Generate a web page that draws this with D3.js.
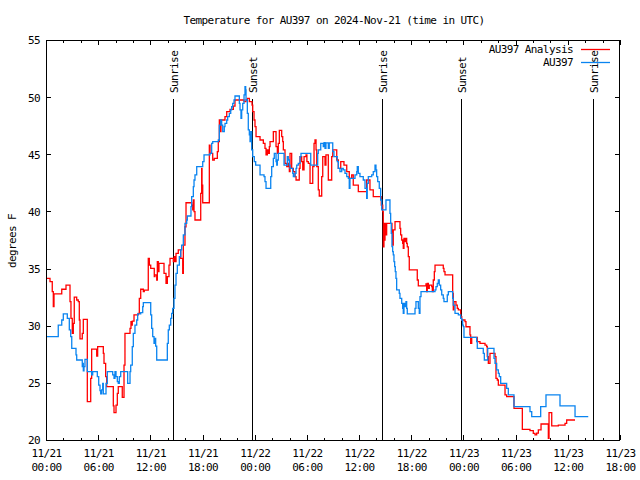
<!DOCTYPE html>
<html>
<head>
<meta charset="utf-8">
<script src="https://cdn.jsdelivr.net/npm/d3@7"></script>
<style>
  html, body { margin: 0; padding: 0; background: #fff; }
  svg text { font-family: "DejaVu Sans Mono", "Liberation Mono", monospace; font-size: 11px; letter-spacing: -0.6px; fill: #000; }
</style>
</head>
<body>
<svg id="chart" width="640" height="480"></svg>
<script>
// ---------------- data (hours since 2024-11-21 00:00 UTC, degrees F) ----------------
const titleText = "Temperature for AU397 on 2024-Nov-21 (time in UTC)";
const yLabelText = "degrees F";
const seriesNames = ["AU397 Analysis", "AU397"];
const seriesColors = ["#ff0000", "#0a84f0"];

const redHours = [0.08,0.46,0.72,0.84,0.92,1.81,2.30,2.76,2.87,3.02,3.14,3.25,3.53,3.71,3.83,3.91,4.17,4.29,4.75,5.14,5.25,5.83,5.94,6.59,6.67,6.86,6.98,7.74,7.82,8.05,8.20,8.31,8.77,8.97,9.08,9.66,9.77,9.89,9.92,10.12,10.61,10.73,10.89,11.19,11.30,11.76,11.88,12.04,12.45,12.53,12.73,12.80,12.91,12.99,13.57,13.80,13.95,14.14,14.26,14.64,14.75,
  14.83,14.95,15.21,15.49,15.72,15.79,15.98,16.10,16.75,16.87,16.94,17.02,17.13,17.79,17.90,17.94,18.02,18.78,18.86,19.17,19.35,19.70,19.81,19.93,20.01,20.12,20.58,20.78,21.16,21.54,21.73,22.77,23.00,23.15,23.38,23.69,23.77,23.92,24.03,24.15,24.61,24.99,25.18,25.30,25.45,25.56,25.68,25.76,26.14,26.45,26.60,26.71,26.83,
  27.10,27.22,27.29,27.48,27.68,27.86,27.98,28.06,28.25,28.44,28.63,28.75,29.12,29.21,29.40,29.52,29.67,29.90,30.00,30.16,30.36,30.67,30.82,30.93,31.05,31.13,31.31,31.42,31.70,31.82,32.08,32.19,32.46,32.85,32.97,33.43,33.61,33.89,34.26,34.58,34.87,35.15,35.33,35.91,36.87,37.25,37.63,
  38.55,38.72,38.78,38.86,38.92,38.98,39.09,39.17,39.78,39.86,39.93,40.13,40.70,40.78,40.90,41.01,41.08,41.16,41.28,41.39,41.47,41.54,41.66,41.77,42.69,42.81,43.69,43.77,43.84,43.96,44.07,44.35,44.42,44.53,44.65,44.73,45.68,45.76,45.88,46.76,46.83,46.91,47.14,47.29,47.41,47.68,47.80,48.18,48.29,48.75,48.83,48.95,49.59,49.90,50.48,50.67,50.74,50.86,51.05,51.63,51.74,51.89,52.01,52.78,52.97,53.81,54.77,55.65,56.03,56.23,56.42,56.61,56.92,57.76,57.84,58.15,58.91,59.68,59.87,60.83];
const redTemps = [34.15,33.85,32.98,31.67,32.78,33.19,33.56,32.1,30.65,29.33,30.2,32.5,32.25,32.1,30.5,28.84,29.33,30.55,23.35,25.4,27.96,27.35,28.17,27.58,26.7,25.54,24.67,22.98,22.4,23.06,24.08,24.67,23.73,26.56,29.33,29.77,30.35,30.06,30.41,30.94,31.08,32.4,33.19,32.98,33.12,35.9,35.31,35.02,34.29,34.44,34.0,35.6,34.73,35.46,34.58,33.71,34.29,35.31,35.9,35.6,36.04,
  35.6,36.33,36.63,35.9,34.58,37.06,38.66,40.76,40.56,40.13,41.0,39.98,39.25,41.58,43.77,42.3,40.76,45.81,45.08,44.5,44.64,45.23,46.1,48.0,46.98,48.0,48.29,48.73,48.93,49.22,49.75,49.6,49.75,49.9,49.6,49.3,48.73,48.0,47.42,46.54,46.25,45.96,45.52,44.94,45.38,45.08,45.67,46.1,46.98,45.67,45.08,45.96,47.1,
  46.54,46.1,45.38,44.2,43.92,44.2,43.48,45.08,43.77,43.48,43.04,42.75,43.77,44.8,44.35,43.63,44.8,44.94,44.35,44.2,42.46,43.92,45.96,46.25,45.38,43.92,41.88,41.35,43.04,44.8,44.06,44.94,42.75,44.8,45.38,44.5,43.77,44.35,44.06,43.48,42.9,43.19,42.3,41.73,42.75,41.88,41.3,
  40.56,39.98,36.9,38.96,37.5,38.96,37.94,38.96,38.08,37.06,38.38,39.1,38.52,37.94,37.5,37.2,36.77,37.64,37.35,37.64,37.2,36.9,36.04,34.88,34.0,33.48,33.65,32.98,33.71,33.27,33.56,33.42,32.98,34.0,34.73,35.31,35.02,34.73,34.44,32.83,31.38,32.1,31.81,31.52,31.38,30.79,30.5,30.35,29.91,29.19,28.46,28.98,28.6,28.46,28.31,28.17,27.29,26.71,27.58,27.29,25.4,25.25,24.81,23.94,23.79,22.77,20.93,20.82,20.58,20.44,20.6,20.88,21.4,20.15,22.39,21.23,21.31,21.46,21.75,21.75];

const blueHours = [0.08,1.41,1.81,1.99,2.45,2.68,2.84,2.96,3.45,3.53,4.17,4.22,4.29,4.37,4.48,4.75,5.25,5.37,5.90,6.06,6.21,6.29,6.40,6.52,6.59,6.90,7.05,7.67,7.82,7.93,8.05,8.20,8.31,8.43,8.59,9.39,9.66,9.74,9.92,10.04,10.23,10.43,10.54,10.89,11.12,11.19,12.04,12.15,12.27,12.42,12.53,12.61,12.73,13.95,14.06,14.18,14.34,14.45,14.57,14.72,
  14.83,14.95,15.10,15.33,15.49,15.60,15.79,15.98,16.18,16.25,16.67,16.75,16.94,17.02,17.13,17.33,18.02,18.17,18.86,19.05,19.17,19.81,19.93,20.09,20.20,20.32,20.50,20.58,20.78,20.89,21.08,21.24,21.35,21.47,21.62,21.73,22.23,22.31,22.42,22.50,22.62,22.77,22.88,22.96,23.00,23.15,23.26,23.38,23.46,23.54,23.65,23.77,23.95,24.11,24.61,25.07,25.18,25.30,25.84,25.95,26.14,26.25,26.45,26.53,26.60,26.71,
  27.37,27.75,27.86,27.98,28.06,28.37,28.44,28.63,28.75,28.83,29.01,29.21,29.32,30.44,31.24,31.31,31.59,31.88,31.97,32.08,32.19,32.46,32.57,32.97,33.11,33.49,33.61,33.80,34.00,34.18,34.38,34.58,34.76,34.87,34.95,35.53,35.73,35.79,35.91,36.10,36.48,36.68,36.87,36.94,37.06,37.45,37.63,37.83,37.94,38.02,38.14,38.32,38.48,38.60,
  39.09,39.55,39.63,39.70,39.78,39.86,39.93,40.01,40.09,40.16,40.24,40.32,40.62,40.70,40.90,41.01,41.08,41.16,41.28,41.39,41.47,41.54,42.43,42.54,42.81,42.92,43.00,43.12,44.73,44.84,44.99,45.11,45.22,45.38,45.50,45.68,45.76,46.14,46.26,46.76,46.83,47.03,47.41,47.68,47.80,47.91,47.98,48.06,49.52,49.59,50.28,50.40,50.79,51.51,51.63,51.82,52.01,52.12,52.28,52.97,53.16,53.81,55.65,55.85,56.88,57.49,59.10,60.83,62.35];
const blueTemps = [29.04,30.06,30.5,31.03,30.65,29.63,29.04,28.02,27.44,27.0,26.42,26.71,26.04,26.42,27.06,25.98,25.69,25.98,25.54,24.81,24.32,24.03,24.38,24.96,24.03,24.96,25.98,25.69,25.4,25.98,25.54,25.1,24.96,25.54,25.98,24.96,25.98,26.56,28.17,29.33,30.06,30.5,31.03,31.14,31.67,32.02,30.94,29.77,29.04,28.46,28.9,28.22,27.0,28.46,29.63,30.06,30.65,31.08,31.52,32.4,
  33.56,34.58,35.31,36.04,36.63,37.06,37.94,38.96,39.25,39.6,40.42,41.29,42.17,42.75,43.19,43.92,44.35,44.94,45.08,45.96,46.1,46.25,47.56,48.0,47.56,46.98,47.42,47.71,48.0,48.29,48.58,48.88,49.16,49.46,49.75,50.1,49.46,48.88,48.15,48.88,49.46,50.19,50.92,50.63,49.75,48.58,47.13,46.69,46.1,46.98,45.38,44.8,44.35,44.06,43.19,43.04,42.6,42.02,43.04,43.92,44.65,45.08,44.35,44.06,44.5,45.08,
  44.06,44.8,44.5,44.06,43.77,43.33,43.04,43.33,43.77,44.06,44.2,44.8,45.08,44.06,45.08,45.38,45.96,45.67,46.02,45.52,46.0,45.52,46.0,45.23,44.8,44.35,43.77,43.48,43.77,43.63,43.33,43.04,42.9,42.02,42.9,43.19,43.48,43.92,43.33,43.04,42.75,42.02,41.15,42.46,43.04,43.19,43.48,44.06,43.63,43.04,42.6,42.02,41.0,40.13,
  41.0,39.83,38.96,38.08,36.92,36.48,36.19,35.6,35.17,34.73,34.15,33.13,32.83,32.4,31.96,31.52,31.08,31.96,31.67,32.1,31.52,31.03,31.52,32.1,31.52,31.08,32.54,32.98,33.13,33.42,33.71,34.0,33.56,33.13,32.69,32.4,32.1,32.69,32.98,32.4,31.81,31.08,30.94,30.65,30.5,30.06,29.92,28.98,28.6,28.02,27.58,27.0,28.02,27.15,26.71,26.13,25.83,25.54,24.96,24.52,23.94,22.92,22.48,22.04,22.92,23.94,22.98,22.04,22.04];

const sunHours = [14.64, 23.72, 38.67, 47.75, 62.84];
const sunLabels = ["Sunrise", "Sunset", "Sunrise", "Sunset", "Sunrise"];

const yTicks = [20, 25, 30, 35, 40, 45, 50, 55];
const xStartUTC = Date.UTC(2024, 10, 21, 0, 0);
const xEndUTC = Date.UTC(2024, 10, 23, 18, 0);

// ---------------- drawing ----------------
const svg = d3.select("#chart");
const L = 46, R = 620, T = 40, B = 440;
const toDate = h => new Date(xStartUTC + h * 3600e3);

const x = d3.scaleUtc().domain([new Date(xStartUTC), new Date(xEndUTC)]).range([L, R]);
const y = d3.scaleLinear().domain([20, 55]).range([B, T]);

svg.append("defs").append("clipPath").attr("id", "plotclip")
  .append("rect").attr("x", L).attr("y", T).attr("width", R - L).attr("height", B - T);

const minorTicks = d3.utcHour.every(2).range(new Date(xStartUTC), new Date(xEndUTC + 1));
const majorTicks = d3.utcHour.every(6).range(new Date(xStartUTC), new Date(xEndUTC + 1));

function styleAxis(g) {
  g.select(".domain").remove();
  g.selectAll("line").attr("stroke", "#000").attr("stroke-width", 1).attr("shape-rendering", "crispEdges");
}

// minor ticks bottom/top
svg.append("g").attr("transform", `translate(0,${B})`)
  .call(d3.axisBottom(x).tickValues(minorTicks).tickSize(-2.5).tickFormat(""))
  .call(styleAxis);
svg.append("g").attr("transform", `translate(0,${T})`)
  .call(d3.axisTop(x).tickValues(minorTicks).tickSize(-2.5).tickFormat(""))
  .call(styleAxis);
// major ticks bottom/top
const fmtD = d3.utcFormat("%m/%d"), fmtT = d3.utcFormat("%H:%M");
const xAxisG = svg.append("g").attr("transform", `translate(0,${B})`)
  .call(d3.axisBottom(x).tickValues(majorTicks).tickSize(-5).tickFormat(""))
  .call(styleAxis);
xAxisG.selectAll(".tick").append("text")
  .attr("text-anchor", "middle")
  .each(function(d) {
    const t = d3.select(this);
    t.append("tspan").attr("x", 0).attr("y", 17).text(fmtD(d));
    t.append("tspan").attr("x", 0).attr("y", 31).text(fmtT(d));
  });
svg.append("g").attr("transform", `translate(0,${T})`)
  .call(d3.axisTop(x).tickValues(majorTicks).tickSize(-5).tickFormat(""))
  .call(styleAxis);

// y axes
const yAxisG = svg.append("g").attr("transform", `translate(${L},0)`)
  .call(d3.axisLeft(y).tickValues(yTicks).tickSize(-5).tickPadding(6).tickFormat(d3.format("d")))
  .call(styleAxis);
yAxisG.selectAll("text").attr("dy", "0.35em").attr("text-anchor", "end");
svg.append("g").attr("transform", `translate(${R},0)`)
  .call(d3.axisRight(y).tickValues(yTicks).tickSize(-5).tickFormat(""))
  .call(styleAxis);

// sunrise / sunset lines
const sunG = svg.append("g");
sunHours.forEach((h, i) => {
  const sx = Math.round(x(toDate(h))) + 0.5;
  sunG.append("line").attr("x1", sx).attr("x2", sx).attr("y1", 99).attr("y2", B)
    .attr("stroke", "#000").attr("stroke-width", 1);
  sunG.append("text")
    .attr("transform", `translate(${sx + 4},93) rotate(-90)`)
    .attr("text-anchor", "start")
    .text(sunLabels[i]);
});

// series lines
const line = d3.line()
  .x(d => x(toDate(d[0])))
  .y(d => y(d[1]))
  .curve(d3.curveStepAfter);
const redData = d3.zip(redHours, redTemps);
const blueData = d3.zip(blueHours, blueTemps);
const plotG = svg.append("g").attr("clip-path", "url(#plotclip)");
plotG.append("path").datum(redData).attr("d", line)
  .attr("fill", "none").attr("stroke", seriesColors[0]).attr("stroke-width", 1.3);
plotG.append("path").datum(blueData).attr("d", line)
  .attr("fill", "none").attr("stroke", seriesColors[1]).attr("stroke-width", 1.3);

// border
svg.append("rect").attr("x", L + 0.5).attr("y", T + 0.5).attr("width", R - L - 1).attr("height", B - T)
  .attr("fill", "none").attr("stroke", "#000").attr("stroke-width", 1).attr("shape-rendering", "crispEdges");

// legend
const legendY = [49.5, 62.5];
seriesNames.forEach((name, i) => {
  svg.append("text").attr("x", 573).attr("y", legendY[i]).attr("dy", "0.35em")
    .attr("text-anchor", "end").text(name);
  svg.append("line").attr("x1", 581).attr("x2", 610).attr("y1", legendY[i]).attr("y2", legendY[i])
    .attr("stroke", seriesColors[i]).attr("stroke-width", 1.3);
});

// title and y label
svg.append("text").attr("x", 334).attr("y", 20).attr("dy", "0.35em")
  .attr("text-anchor", "middle").text(titleText);
svg.append("text").attr("transform", "translate(12,241) rotate(-90)")
  .attr("text-anchor", "middle").attr("dy", "0.35em").text(yLabelText);
</script>
</body>
</html>
